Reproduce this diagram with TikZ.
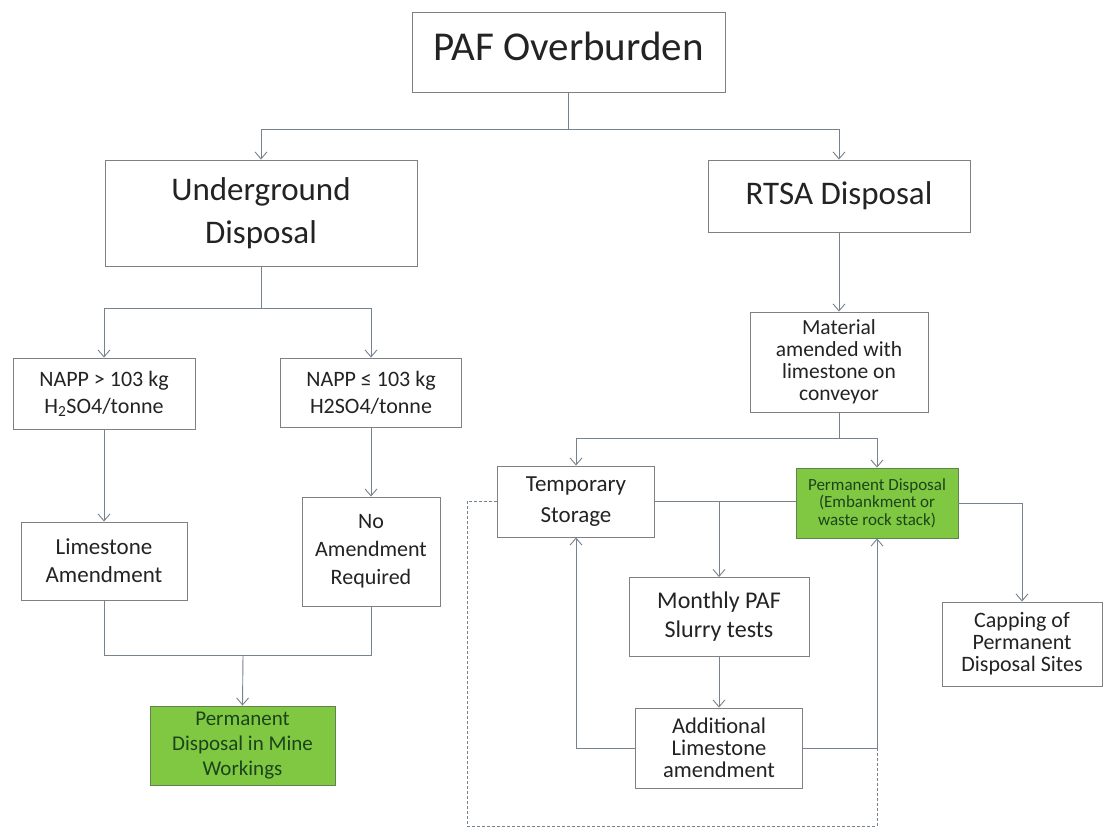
\documentclass[tikz,border=0pt]{standalone}
\usepackage{fontspec}
\setmainfont{Carlito}
\usetikzlibrary{arrows.meta}
\definecolor{linegray}{RGB}{118,130,142}
\definecolor{boxgray}{RGB}{128,128,128}
\definecolor{pgreen}{RGB}{128,200,66}
\definecolor{gborder}{RGB}{95,130,80}
\definecolor{gtext}{RGB}{28,68,28}
\definecolor{txt}{RGB}{35,35,35}
\tikzset{
  box/.style={draw=boxgray, line width=0.9pt, fill=white, align=center, inner sep=2pt, text=txt,
    font=\fontsize{23}{28}\selectfont},
  gbox/.style={box, fill=pgreen, draw=gborder, text=gtext},
  conn/.style={draw=linegray, line width=0.9pt},
  arr/.style={conn, -{Straight Barb[length=7pt,width=12pt,line width=0.9pt]}},
  dconn/.style={draw=linegray, line width=0.8pt, dash pattern=on 3pt off 2pt},
}
\begin{document}
\begin{tikzpicture}[x=1pt,y=-1pt]
\useasboundingbox[fill=white] (0,0) rectangle (1104,828);
% nodes
\node[box, minimum width=313pt, inner ysep=0pt, text height=48pt, text depth=32pt,
  font=\fontsize{41}{48}\selectfont] (paf) at (568.5,52) {PAF Overburden};
\node[box, minimum width=312pt, minimum height=106pt, font=\fontsize{33}{43}\selectfont] (ug) at (261,213) {Underground\\Disposal};
\node[box, minimum width=262pt, minimum height=72pt, font=\fontsize{33}{38}\selectfont] (rtsa) at (839,196) {RTSA Disposal};
\node[box, minimum width=182pt, minimum height=71pt, font=\fontsize{22}{27}\selectfont] (napp1) at (104,393.5) {NAPP > 103 kg\\H\textsubscript{2}SO4/tonne};
\node[box, minimum width=181pt, minimum height=69pt, font=\fontsize{22}{27}\selectfont] (napp2) at (371,392.5) {NAPP ≤ 103 kg\\H2SO4/tonne};
\node[box, minimum width=166pt, minimum height=78pt] (lime) at (104,561) {Limestone\\Amendment};
\node[box, minimum width=138pt, minimum height=109pt, font=\fontsize{22}{28}\selectfont] (noam) at (371,551.5) {No\\Amendment\\Required};
\node[gbox, minimum width=185pt, minimum height=79pt, font=\fontsize{21}{25}\selectfont] (pdmw) at (242.5,745.5) {Permanent\\Disposal in Mine\\Workings};
\node[box, minimum width=178pt, minimum height=100pt, font=\fontsize{21.5}{22}\selectfont] (mat) at (839,362) {Material\\amended with\\limestone on\\conveyor};
\node[box, minimum width=157pt, minimum height=71pt, font=\fontsize{23}{31}\selectfont] (temp) at (576,501.5) {Temporary\\Storage};
\node[gbox, minimum width=162pt, minimum height=70pt, font=\fontsize{17}{17.5}\selectfont] (pdg) at (877,503) {Permanent Disposal\\(Embankment or\\waste rock stack)};
\node[box, minimum width=180pt, minimum height=79pt, font=\fontsize{24}{29}\selectfont] (monthly) at (719,617) {Monthly PAF\\Slurry tests};
\node[box, minimum width=167pt, minimum height=80pt, font=\fontsize{22.5}{22}\selectfont] (addl) at (719,748) {Additional\\Limestone\\amendment};
\node[box, minimum width=160pt, minimum height=84pt, font=\fontsize{22}{22}\selectfont] (cap) at (1022,644) {Capping of\\Permanent\\Disposal Sites};
% junctions
\coordinate (j1) at (568.5,129);
\coordinate (j2) at (261,308);
\coordinate (j3) at (243,655);
\coordinate (j4) at (839,438);
\coordinate (j5) at (719,501.5);
\coordinate (d1) at (467,501.5);
\coordinate (d2) at (467,826);
\coordinate (d3) at (877,826);
\coordinate (d4) at (877,748);
% connectors
\draw[conn] (paf.south) -- (j1);
\draw[arr] (j1) -| (ug.north);
\draw[arr] (j1) -| (rtsa.north);
\draw[conn] (ug.south) -- (j2);
\draw[arr] (j2) -| (napp1.north);
\draw[arr] (j2) -| (napp2.north);
\draw[arr] (napp1.south) -- (lime.north);
\draw[arr] (napp2.south) -- (noam.north);
\draw[conn] (lime.south) |- (j3);
\draw[conn] (noam.south) |- (j3);
\draw[arr] (j3) -- (pdmw.north);
\draw[arr] (rtsa.south) -- (mat.north);
\draw[conn] (mat.south) -- (j4);
\draw[arr] (j4) -| (temp.north);
\draw[arr] (j4) -| (pdg.north);
\draw[conn] (temp.east) -- (temp.east -| pdg.west);
\draw[arr] (j5) -- (monthly.north);
\draw[arr] (pdg.east) -| (cap.north);
\draw[arr] (monthly.south) -- (addl.north);
\draw[arr] (addl.west) -| (temp.south);
\draw[arr] (addl.east) -| (pdg.south);
\draw[dconn] (temp.west) -- (d1) -- (d2) -- (d3) -- (d4);
\end{tikzpicture}
\end{document}
